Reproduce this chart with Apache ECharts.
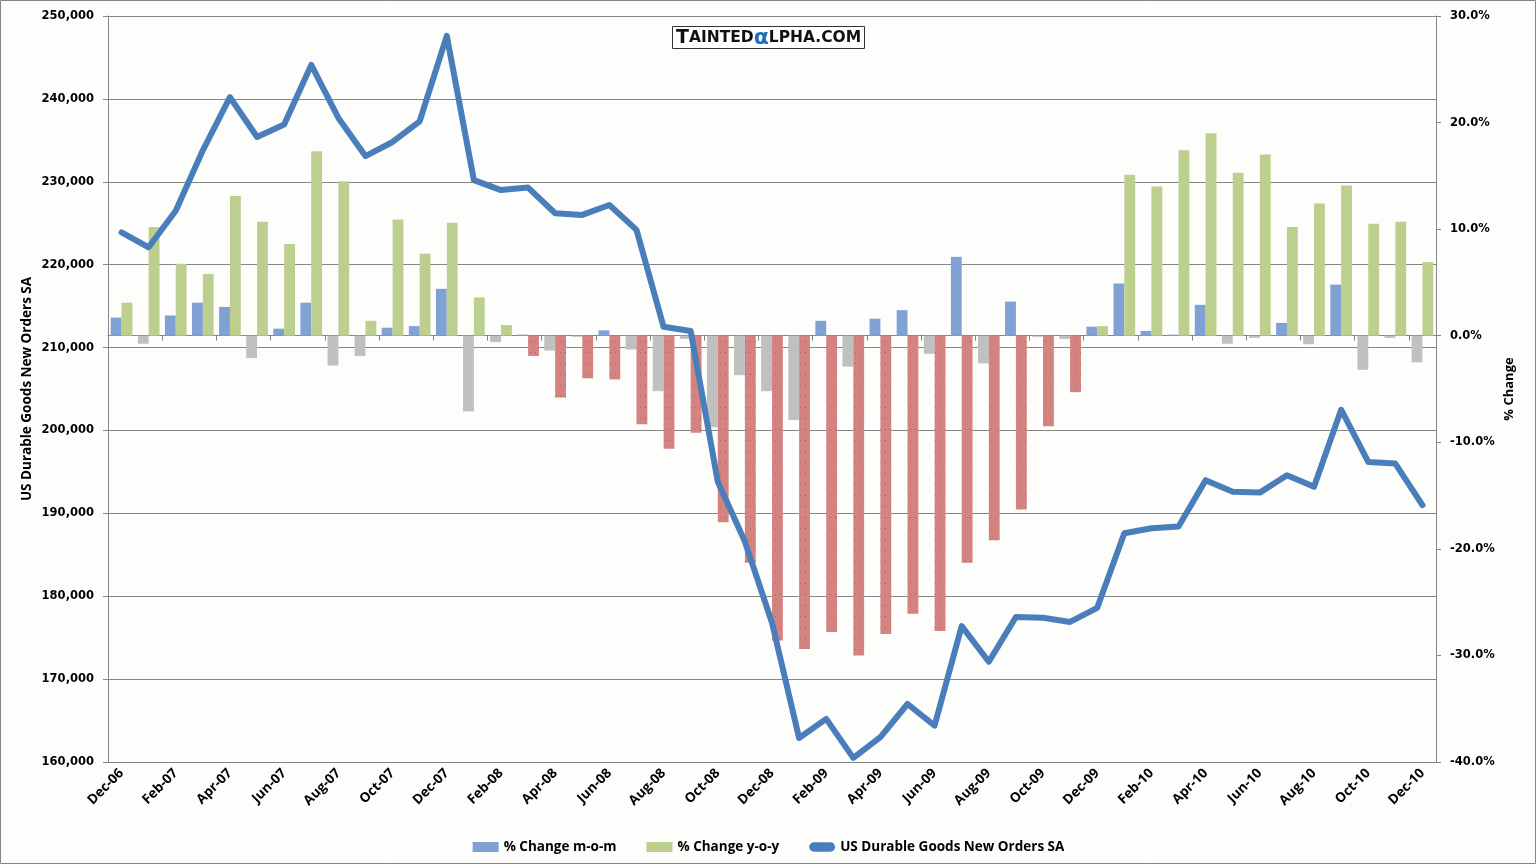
<!DOCTYPE html>
<html>
<head>
<meta charset="utf-8">
<title>US Durable Goods New Orders</title>
<script src="https://cdn.jsdelivr.net/npm/echarts@6/dist/echarts.min.js"></script>
<style>
html,body{margin:0;padding:0;background:#fdfefc;}
#chart{width:1537px;height:865px;}
</style>
</head>
<body>
<div id="chart"></div>
<script>
var categories = ['Dec-06','Jan-07','Feb-07','Mar-07','Apr-07','May-07','Jun-07','Jul-07','Aug-07','Sep-07','Oct-07','Nov-07',
  'Dec-07','Jan-08','Feb-08','Mar-08','Apr-08','May-08','Jun-08','Jul-08','Aug-08','Sep-08','Oct-08','Nov-08',
  'Dec-08','Jan-09','Feb-09','Mar-09','Apr-09','May-09','Jun-09','Jul-09','Aug-09','Sep-09','Oct-09','Nov-09',
  'Dec-09','Jan-10','Feb-10','Mar-10','Apr-10','May-10','Jun-10','Jul-10','Aug-10','Sep-10','Oct-10','Nov-10','Dec-10'];

var momChange = [1.7,-0.75,1.9,3.1,2.7,-2.1,0.66,3.1,-2.8,-1.9,0.75,0.9,
  4.4,-7.1,-0.6,0.1,-1.4,-0.1,0.5,-1.3,-5.2,-0.3,-8.6,-3.7,
  -5.2,-7.9,1.4,-2.9,1.6,2.4,-1.7,7.4,-2.6,3.2,-0.1,-0.3,
  0.85,4.9,0.45,0.1,2.9,-0.75,-0.2,1.2,-0.8,4.8,-3.2,-0.2,-2.5];

var yoyChange = [3.1,10.2,6.75,5.8,13.1,10.7,8.6,17.3,14.5,1.4,10.9,7.7,
  10.6,3.6,1.0,-1.9,-5.8,-4.0,-4.1,-8.3,-10.6,-9.1,-17.5,-21.3,
  -28.6,-29.4,-27.8,-30.0,-28.0,-26.1,-27.7,-21.3,-19.2,-16.3,-8.5,-5.3,
  0.9,15.1,14.0,17.4,19.0,15.3,17.0,10.2,12.4,14.1,10.5,10.7,6.9];

var newOrders = [223900,222100,226500,233800,240200,235400,236900,244100,237700,233100,234800,237300,
  247600,230200,229000,229300,226200,226000,227200,224200,212500,212000,193800,186600,
  176800,162900,165200,160500,163000,167000,164400,176400,172100,177500,177400,176900,
  178600,187600,188200,188400,194000,192600,192500,194600,193200,202500,196200,196000,191000];

var seriesNames = ['% Change m-o-m','% Change y-o-y','US Durable Goods New Orders SA'];

var C_BLUE = '#7fa1d3', C_GRAY = '#c0c0c0', C_GREEN = '#bccf8e', C_RED = '#d48381', C_LINE = '#4a7ebb';
var AXIS_COLOR = '#868686';

var redDecal = {symbol:'rect', symbolSize:1, color:'rgba(130,70,70,0.55)', dashArrayX:[1,4], dashArrayY:[1,10], rotation:0};

var momData = momChange.map(function(v){
  return {value:v, itemStyle:{color: v >= 0 ? C_BLUE : C_GRAY}};
});
var yoyData = yoyChange.map(function(v){
  return v >= 0 ? {value:v, itemStyle:{color:C_GREEN}} : {value:v, itemStyle:{color:C_RED, decal:redDecal}};
});

var numFont = 'DejaVu Sans';
var txtFont = 'Open Sans';

var chart = echarts.init(document.getElementById('chart'), null, {renderer:'canvas'});
chart.setOption({
  backgroundColor:'#fdfefc',
  animation:false,
  title:{
    text:'{a|T}{b|AINTED}{c|α}{b|LPHA.COM}',
    left:672, top:28, padding:[1,4,0,4],
    borderColor:'#333', borderWidth:1, backgroundColor:'#ffffff',
    textStyle:{
      rich:{
        a:{fontFamily:numFont, fontWeight:'bold', fontSize:19, color:'#111', lineHeight:18},
        b:{fontFamily:numFont, fontWeight:'bold', fontSize:15.5, color:'#111', lineHeight:18},
        c:{fontFamily:numFont, fontWeight:'bold', fontSize:22, color:'#1c6fc0', lineHeight:18}
      }
    }
  },
  graphic:[{type:'rect', shape:{x:0.5,y:0.5,width:1535,height:863}, style:{fill:'none', stroke:AXIS_COLOR, lineWidth:1}, silent:true, z:-1}],
  legend:{
    data:[
      {name:seriesNames[0], icon:'rect', itemStyle:{color:C_BLUE}},
      {name:seriesNames[1], icon:'rect', itemStyle:{color:C_GREEN}},
      {name:seriesNames[2], icon:'path://M5,0 L23,0 A5,5 0 0 1 23,10 L5,10 A5,5 0 0 1 5,0 Z', itemStyle:{color:C_LINE}}
    ],
    left:'center', top:835, itemWidth:26, itemHeight:10, itemGap:30,
    textStyle:{fontFamily:txtFont, fontWeight:'bold', fontSize:13.5, color:'#000'}
  },
  grid:{left:108, right:101, top:16, bottom:103, containLabel:false},
  xAxis:{
    type:'category', data:categories, boundaryGap:true,
    axisLine:{lineStyle:{color:AXIS_COLOR, width:1}},
    axisTick:{show:true, interval:1, length:5, lineStyle:{color:AXIS_COLOR}},
    axisLabel:{interval:1, rotate:45, margin:9, fontFamily:txtFont, fontWeight:'bold', fontSize:13.5, color:'#000'},
    splitLine:{show:false}
  },
  yAxis:[{
    type:'value', min:160000, max:250000, interval:10000, position:'left',
    name:'US Durable Goods New Orders SA', nameLocation:'middle', nameRotate:90, nameGap:74, nameMoveOverlap:false,
    nameTextStyle:{fontFamily:txtFont, fontWeight:'bold', fontSize:13.5, color:'#000'},
    axisLine:{show:true, lineStyle:{color:AXIS_COLOR}},
    axisTick:{show:true, length:5, lineStyle:{color:AXIS_COLOR}},
    axisLabel:{margin:14, fontFamily:numFont, fontWeight:'bold', fontSize:11.5, color:'#000',
      formatter:function(v){return v.toLocaleString('en-US');}},
    splitLine:{show:true, lineStyle:{color:AXIS_COLOR, width:1}}
  },{
    type:'value', min:-40, max:30, interval:10, position:'right',
    name:'% Change', nameLocation:'middle', nameRotate:90, nameGap:67, nameMoveOverlap:false,
    nameTextStyle:{fontFamily:txtFont, fontWeight:'bold', fontSize:13, color:'#000'},
    axisLine:{show:true, lineStyle:{color:AXIS_COLOR}},
    axisTick:{show:true, length:5, lineStyle:{color:AXIS_COLOR}},
    axisLabel:{margin:14, fontFamily:numFont, fontWeight:'bold', fontSize:11.5, color:'#000',
      formatter:function(v){return v.toFixed(1)+'%';}},
    splitLine:{show:false}
  }],
  series:[{
    name:seriesNames[0], type:'bar', yAxisIndex:1, data:momData,
    barGap:'0%', barCategoryGap:'20%', itemStyle:{color:C_BLUE}, z:2
  },{
    name:seriesNames[1], type:'bar', yAxisIndex:1, data:yoyData,
    barGap:'0%', barCategoryGap:'20%', itemStyle:{color:C_GREEN}, z:2
  },{
    name:seriesNames[2], type:'line', yAxisIndex:0, data:newOrders,
    symbol:'none', showSymbol:false, smooth:false,
    lineStyle:{color:C_LINE, width:6, cap:'round', join:'round'},
    itemStyle:{color:C_LINE}, z:5
  }]
});
</script>
</body>
</html>
